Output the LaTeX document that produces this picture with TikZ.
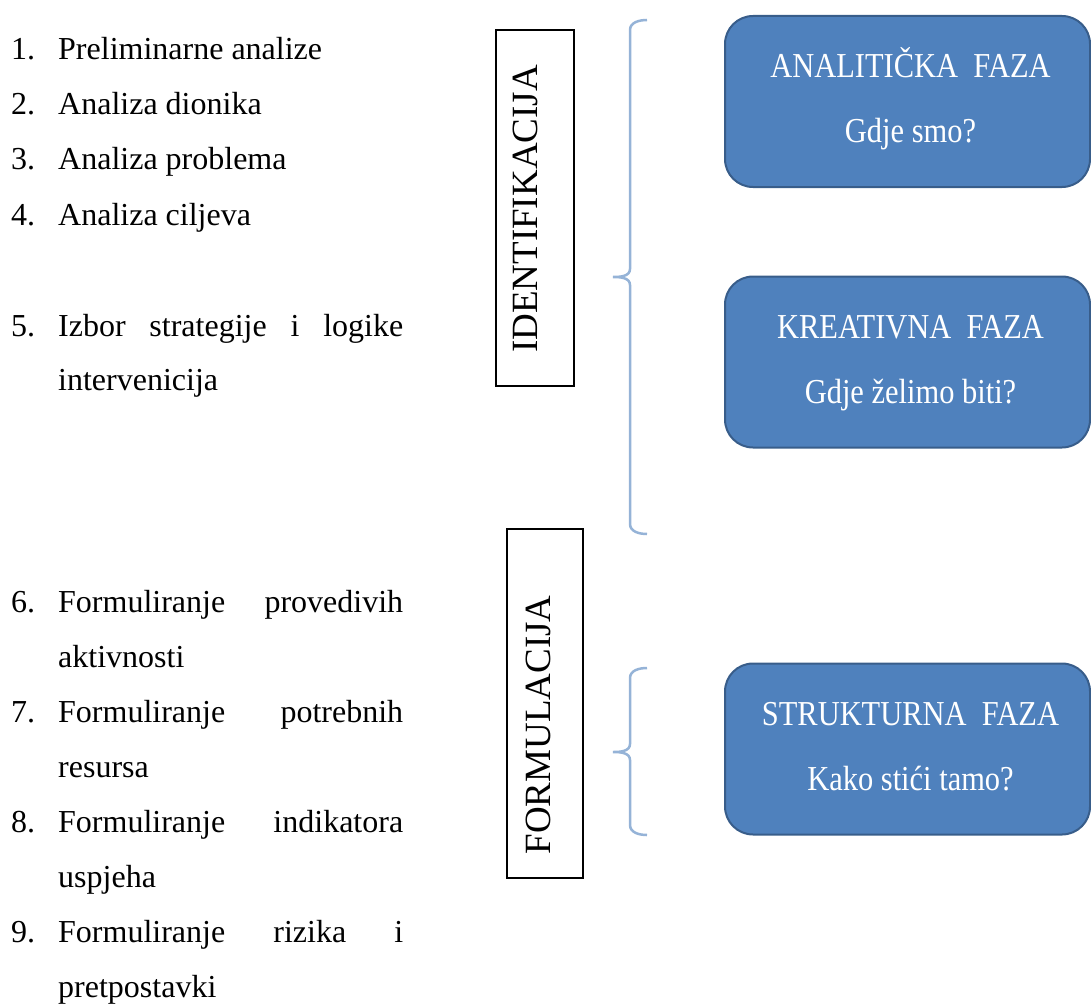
\documentclass[tikz,border=0pt]{standalone}
\usepackage{fontspec}
\setmainfont{Liberation Serif}
\newfontfamily\narrowserif[FakeStretch=0.87]{Liberation Serif}
\usetikzlibrary{positioning,calc}
\definecolor{phaseblue}{RGB}{79,129,189}
\definecolor{phaseedge}{RGB}{56,93,138}
\definecolor{bracecol}{RGB}{149,179,215}
\tikzset{
    phase/.style = {draw=phaseedge, fill=phaseblue, line width=2pt,
        rounded corners=28pt, minimum width=365pt,
        minimum height=171pt, inner sep=0pt},
    phasetxt/.style = {text=white, inner sep=0pt, anchor=base,
        font=\narrowserif\fontsize{35}{40}\selectfont},
    stage/.style = {draw, line width=2pt, inner sep=0pt},
    stagetxt/.style = {rotate=90, anchor=base, inner sep=0pt,
        font=\fontsize{37}{40}\selectfont},
    item/.style = {anchor=base west, inner sep=0pt,
        font=\fontsize{32}{38}\selectfont},
    hook/.style = {draw=bracecol, line width=2.5pt}
}
% #1 top, #2 tip, #3 bottom (y values)
\newcommand{\phasebrace}[3]{%
    \draw[hook] (647,#1) to[out=180,in=90] (630,#1+10) -- (630,#2-8)
        to[out=-90,in=0] (613,#2) to[out=0,in=90] (630,#2+8)
        -- (630,#3-10) to[out=-90,in=180] (647,#3);
}

\begin{document}
\begin{tikzpicture}[x=1pt, y=-1pt]
    \useasboundingbox (0,0) rectangle (1091,1003);
    % lijevi popis
    \foreach \k/\txt in {1/Preliminarne analize, 2/Analiza dionika,
                         3/Analiza problema, 4/Analiza ciljeva}{
        \node [item] (n\k) at (11,{5+55*\k}) {\k.};
        \node [item] (i\k) at (58,{5+55*\k}) {\txt};
    }
    \node [item] (n5) at (11,336) {5.};
    \node [item] (i5) at (58,336) {\makebox[345pt][s]{Izbor strategije i logike}};
    \node [item, below=54pt of i5.base west, anchor=base west] (c5) {intervenicija};
    \foreach \k/\rest/\cont [count=\j from 0] in {6/provedivih/aktivnosti,
            7/potrebnih/resursa, 8/indikatora/uspjeha, 9/rizika i/pretpostavki}{
        \node [item] (n\k) at (11,{612+110*\j}) {\k.};
        \node [item] (i\k) at (58,{612+110*\j}) {\makebox[345pt][s]{Formuliranje \rest}};
        \node [item, below=55pt of i\k.base west, anchor=base west] (c\k) {\cont};
    }
    % okviri s uspravnim natpisima
    \node [stage, minimum width=78pt, minimum height=356pt] (ident) at (535,208) {};
    \node [stagetxt] (identT) at (537,209) {IDENTIFIKACIJA};
    \node [stage, minimum width=76pt, minimum height=349pt] (form) at (545,703.5) {};
    \node [stagetxt] (formT) at (550,725) {FORMULACIJA};
    % zagrade
    \phasebrace{20}{277}{534}
    \phasebrace{668}{752}{835}
    % faze
    \node [phase] (ana) at (907.5,101.5) {};
    \node [phasetxt] (anaT) at ([xshift=3pt,yshift=24pt]ana.center) {ANALITIČKA\ \ FAZA};
    \node [phasetxt] (anaQ) at ([xshift=3pt,yshift=-41pt]ana.center) {Gdje smo?};
    \node [phase] (kre) at (907.5,362) {};
    \node [phasetxt] (kreT) at ([xshift=3pt,yshift=24pt]kre.center) {KREATIVNA\ \ FAZA};
    \node [phasetxt] (kreQ) at ([xshift=3pt,yshift=-41pt]kre.center) {Gdje želimo biti?};
    \node [phase] (str) at (907.5,749) {};
    \node [phasetxt] (strT) at ([xshift=3pt,yshift=24pt]str.center) {STRUKTURNA\ \ FAZA};
    \node [phasetxt] (strQ) at ([xshift=3pt,yshift=-41pt]str.center) {Kako stići tamo?};
\end{tikzpicture}
\end{document}
